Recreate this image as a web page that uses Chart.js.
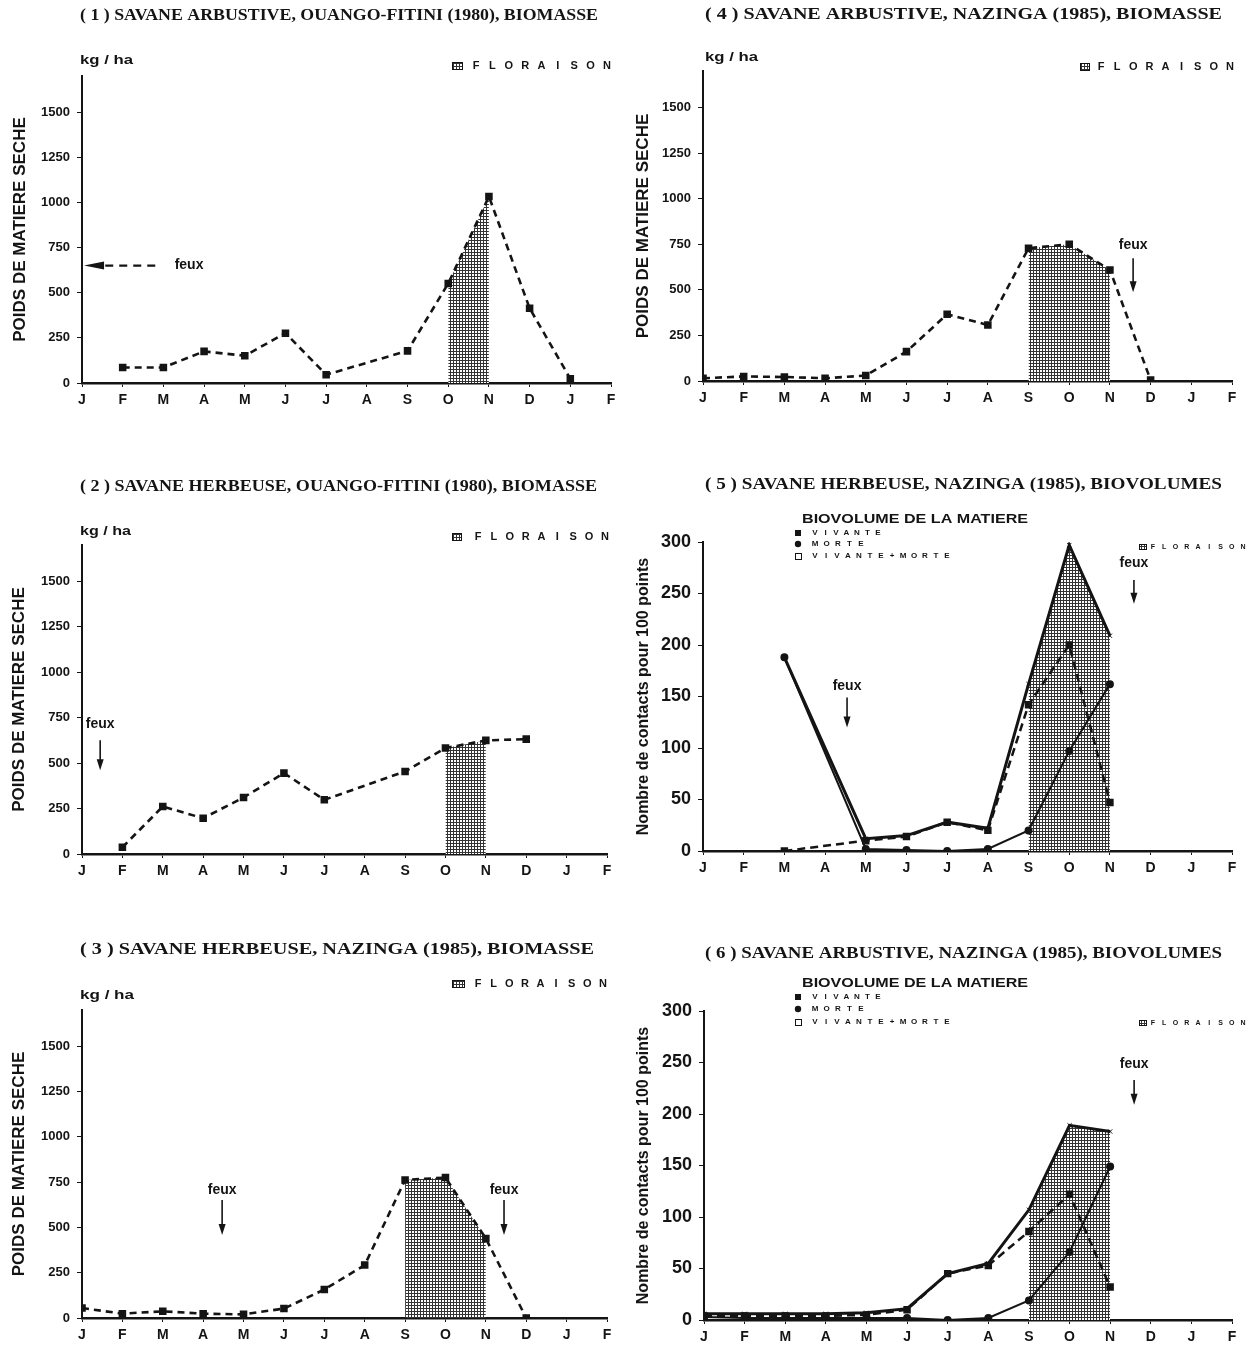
<!DOCTYPE html>
<html>
<head>
<meta charset="utf-8">
<script src="https://cdn.jsdelivr.net/npm/chart.js@4.4.0/dist/chart.umd.min.js"></script>
<style>
  html, body { margin: 0; padding: 0; background: #fff; }
  body { width: 1259px; height: 1349px; position: relative; overflow: hidden; }
  canvas { position: absolute; }
</style>
</head>
<body>
<script>
// month letters on the x axis (J of one year to F of the next)
const MONTHS = ['J','F','M','A','M','J','J','A','S','O','N','D','J','F'];
const BIOMASSE_TICKS = [0, 250, 500, 750, 1000, 1250, 1500];
const BIOVOLUME_TICKS = [0, 50, 100, 150, 200, 250, 300];

// (1) savane arbustive, Ouango-Fitini 1980 - biomasse kg/ha
const p1Months = [1, 2, 3, 4, 5, 6, 8, 9, 10, 11, 12];
const p1Biomasse = [86, 86, 175, 151, 276, 46, 178, 551, 1033, 414, 24];
const p1Floraison = [9, 10];

// (2) savane herbeuse, Ouango-Fitini 1980
const p2Months = [1, 2, 3, 4, 5, 6, 8, 9, 10, 11];
const p2Biomasse = [37, 261, 197, 311, 445, 298, 454, 583, 625, 632];
const p2Floraison = [9, 10];

// (3) savane herbeuse, Nazinga 1985
const p3Months = [0, 1, 2, 3, 4, 5, 6, 7, 8, 9, 10, 11];
const p3Biomasse = [55, 24, 37, 24, 20, 52, 157, 292, 762, 775, 439, 0];
const p3Floraison = [8, 10];

// (4) savane arbustive, Nazinga 1985
const p4Months = [0, 1, 2, 3, 4, 5, 6, 7, 8, 9, 10, 11];
const p4Biomasse = [15, 25, 22, 15, 30, 161, 366, 307, 728, 750, 609, 5];
const p4Floraison = [8, 10];

// (5) savane herbeuse, Nazinga 1985 - biovolumes
const p5Months = [2, 4, 5, 6, 7, 8, 9, 10];
const p5Vivante = [0, 10, 14, 28, 20, 142, 200, 47];
const p5Morte = [188, 2, 1, 0, 2, 20, 97, 162];
const p5Total = [188, 12, 15, 28, 22, 162, 297, 209];
const p5Floraison = [8, 10];

// (6) savane arbustive, Nazinga 1985 - biovolumes
const p6Months = [0, 1, 2, 3, 4, 5, 6, 7, 8, 9, 10];
const p6Vivante = [4, 4, 4, 4, 5, 10, 45, 53, 86, 122, 32];
const p6Morte = [3, 2, 2, 2, 2, 2, 0, 2, 19, 66, 149];
const p6Total = [6, 6, 6, 6, 7, 11, 45, 55, 107, 189, 183];
const p6Floraison = [8, 10];

const INK = '#141414';
const SANS = '"Liberation Sans", Arial, sans-serif';
const SERIF = '"Liberation Serif", "Times New Roman", serif';
const XH = 28;

// grid-like shading used for the flowering period
function makePattern() {
  const c = document.createElement('canvas');
  c.width = 3; c.height = 3;
  const g = c.getContext('2d');
  g.fillStyle = '#fff'; g.fillRect(0, 0, 3, 3);
  g.fillStyle = '#333';
  g.fillRect(0, 0, 3, 1);
  g.fillRect(0, 0, 1, 3);
  return g.createPattern(c, 'repeat');
}
const PATTERN = makePattern();

const pts = (xs, ys) => xs.map((x, i) => ({ x: x, y: ys[i] }));
const floraisonPts = (xs, ys, range) =>
  pts(xs, ys).filter(p => p.x >= range[0] && p.x <= range[1]);

function biomasseSets(xs, ys, flor) {
  return [
    { data: pts(xs, ys), borderColor: INK, borderWidth: 2.6, borderDash: [7, 5],
      pointStyle: 'rect', pointRadius: 3.5, pointBackgroundColor: INK, pointBorderColor: INK,
      fill: false, tension: 0 },
    { data: floraisonPts(xs, ys, flor), borderColor: 'rgba(0,0,0,0)', borderWidth: 0,
      pointRadius: 0, fill: 'origin', backgroundColor: PATTERN, tension: 0 }
  ];
}

function biovolumeSets(xs, viv, mor, tot, flor) {
  return [
    { data: pts(xs, tot), borderColor: INK, borderWidth: 3, pointStyle: 'crossRot',
      pointRadius: 3, pointBorderColor: INK, pointBorderWidth: 1, fill: false, tension: 0 },
    { data: pts(xs, viv), borderColor: INK, borderWidth: 2.5, borderDash: [8, 5],
      pointStyle: 'rect', pointRadius: 3.5, pointBackgroundColor: INK, pointBorderColor: INK,
      fill: false, tension: 0 },
    { data: pts(xs, mor), borderColor: INK, borderWidth: 2, pointStyle: 'circle',
      pointRadius: 3, pointBackgroundColor: INK, pointBorderColor: INK, fill: false, tension: 0 },
    { data: floraisonPts(xs, tot, flor), borderColor: 'rgba(0,0,0,0)', borderWidth: 0,
      pointRadius: 0, fill: 'origin', backgroundColor: PATTERN, tension: 0 }
  ];
}

const panels = [
  { canvas: { x: 0, y: 0, w: 625, h: 425 }, area: { l: 82, t: 76, r: 611, b: 383 },
    yMax: 1700, yTicks: BIOMASSE_TICKS, tickSize: 13, yTitle: 'POIDS DE MATIERE SECHE', yTitleSize: 17, yTitlePad: 2,
    datasets: biomasseSets(p1Months, p1Biomasse, p1Floraison),
    title: { text: '( 1 ) SAVANE ARBUSTIVE, OUANGO-FITINI (1980), BIOMASSE', x0: 80, x1: 598, y: 16 },
    unit: { x0: 80, x1: 133, y: 61 },
    flor: { bx: 452, bw: 11, x0: 476, x1: 607, y: 66, size: 11 },
    feuxH: { m0: 0.05, m1: 1.8, v: 650, tm: 2.63 },
    feux: [] },
  { canvas: { x: 625, y: 0, w: 634, h: 425 }, area: { l: 703, t: 71, r: 1232, b: 381 },
    yMax: 1700, yTicks: BIOMASSE_TICKS, tickSize: 13, yTitle: 'POIDS DE MATIERE SECHE', yTitleSize: 17, yTitlePad: 0,
    datasets: biomasseSets(p4Months, p4Biomasse, p4Floraison),
    title: { text: '( 4 ) SAVANE ARBUSTIVE, NAZINGA (1985), BIOMASSE', x0: 705, x1: 1222, y: 15 },
    unit: { x0: 705, x1: 758, y: 58 },
    flor: { bx: 1080, bw: 10, x0: 1101, x1: 1230, y: 67, size: 11 },
    feux: [{ m: 10.57, tv: 744, v0: 673, v1: 487 }] },
  { canvas: { x: 0, y: 465, w: 625, h: 420 }, area: { l: 82, t: 545, r: 607, b: 854 },
    yMax: 1700, yTicks: BIOMASSE_TICKS, tickSize: 13, yTitle: 'POIDS DE MATIERE SECHE', yTitleSize: 17, yTitlePad: 1,
    datasets: biomasseSets(p2Months, p2Biomasse, p2Floraison),
    title: { text: '( 2 ) SAVANE HERBEUSE, OUANGO-FITINI (1980), BIOMASSE', x0: 80, x1: 597, y: 487 },
    unit: { x0: 80, x1: 131, y: 532 },
    flor: { bx: 452, bw: 10, x0: 478, x1: 605, y: 537, size: 11 },
    feux: [{ m: 0.45, tv: 714, v0: 626, v1: 461 }] },
  { canvas: { x: 625, y: 465, w: 634, h: 420 }, area: { l: 703, t: 542, r: 1232, b: 851 },
    yMax: 300, yTicks: BIOVOLUME_TICKS, tickSize: 18, yTitle: 'Nombre de contacts pour 100 points', yTitleSize: 16, yTitlePad: 1,
    datasets: biovolumeSets(p5Months, p5Vivante, p5Morte, p5Total, p5Floraison),
    title: { text: '( 5 ) SAVANE HERBEUSE, NAZINGA (1985), BIOVOLUMES', x0: 705, x1: 1222, y: 485 },
    flor: { bx: 1139, bw: 8, x0: 1153, x1: 1243, y: 547, size: 7 },
    legend: { x0: 802, x1: 1028, y: 519, rows: [533, 544, 556] },
    feux: [{ m: 3.54, tv: 160, v0: 149, v1: 120 }, { m: 10.59, tv: 279, v0: 263, v1: 240 }] },
  { canvas: { x: 0, y: 930, w: 625, h: 419 }, area: { l: 82, t: 1010, r: 607, b: 1318 },
    yMax: 1700, yTicks: BIOMASSE_TICKS, tickSize: 13, yTitle: 'POIDS DE MATIERE SECHE', yTitleSize: 17, yTitlePad: 1,
    datasets: biomasseSets(p3Months, p3Biomasse, p3Floraison),
    title: { text: '( 3 ) SAVANE HERBEUSE, NAZINGA (1985), BIOMASSE', x0: 80, x1: 594, y: 950 },
    unit: { x0: 80, x1: 134, y: 996 },
    flor: { bx: 452, bw: 13, x0: 478, x1: 603, y: 984, size: 11 },
    feux: [{ m: 3.47, tv: 706, v0: 651, v1: 458 }, { m: 10.45, tv: 706, v0: 651, v1: 458 }] },
  { canvas: { x: 625, y: 930, w: 634, h: 419 }, area: { l: 704, t: 1011, r: 1232, b: 1320 },
    yMax: 300, yTicks: BIOVOLUME_TICKS, tickSize: 18, yTitle: 'Nombre de contacts pour 100 points', yTitleSize: 16, yTitlePad: 1,
    datasets: biovolumeSets(p6Months, p6Vivante, p6Morte, p6Total, p6Floraison),
    title: { text: '( 6 ) SAVANE ARBUSTIVE, NAZINGA (1985), BIOVOLUMES', x0: 705, x1: 1222, y: 954 },
    flor: { bx: 1139, bw: 8, x0: 1153, x1: 1243, y: 1023, size: 7 },
    legend: { x0: 802, x1: 1028, y: 983, rows: [997, 1009, 1022] },
    feux: [{ m: 10.59, tv: 248, v0: 233, v1: 209 }] }
];

// squeeze / stretch a string to an exact width
function fitText(ctx, text, x0, x1, y) {
  const w = ctx.measureText(text).width;
  ctx.save();
  ctx.translate(x0, y);
  ctx.scale((x1 - x0) / w, 1);
  ctx.textAlign = 'left';
  ctx.fillText(text, 0, 0);
  ctx.restore();
}
// letter-spaced text, first and last char centres given
function spacedText(ctx, text, x0, x1, y) {
  const step = (x1 - x0) / (text.length - 1);
  ctx.save();
  ctx.textAlign = 'center';
  for (let i = 0; i < text.length; i++) ctx.fillText(text[i], x0 + i * step, y);
  ctx.restore();
}

function makeDecor(p) {
  const ox = p.canvas.x, oy = p.canvas.y;
  return {
    id: 'decor',
    afterDraw(chart) {
      const ctx = chart.ctx;
      const xs = chart.scales.x, ys = chart.scales.y;
      ctx.save();
      ctx.fillStyle = INK;
      ctx.strokeStyle = INK;
      ctx.textBaseline = 'middle';

      // panel title
      ctx.font = 'bold 17px ' + SERIF;
      fitText(ctx, p.title.text, p.title.x0 - ox, p.title.x1 - ox, p.title.y - oy);

      // unit
      if (p.unit) {
        ctx.font = 'bold 12px ' + SANS;
        fitText(ctx, 'kg / ha', p.unit.x0 - ox, p.unit.x1 - ox, p.unit.y - oy);
      }

      // floraison key
      const f = p.flor;
      const bh = f.size < 9 ? 6 : 8;
      ctx.fillStyle = PATTERN;
      ctx.fillRect(f.bx - ox, f.y - oy - bh / 2, f.bw, bh);
      ctx.lineWidth = 1;
      ctx.strokeRect(f.bx - ox + 0.5, f.y - oy - bh / 2 + 0.5, f.bw - 1, bh - 1);
      ctx.fillStyle = INK;
      ctx.font = 'bold ' + f.size + 'px ' + SANS;
      spacedText(ctx, 'FLORAISON', f.x0 - ox, f.x1 - ox, f.y - oy);

      // biovolume legend
      if (p.legend) {
        const L = p.legend;
        ctx.font = 'bold 13px ' + SANS;
        fitText(ctx, 'BIOVOLUME DE LA MATIERE', L.x0 - ox, L.x1 - ox, L.y - oy);
        const sx = 798 - ox;
        ctx.fillRect(sx - 3, L.rows[0] - oy - 3, 6, 6);
        ctx.beginPath(); ctx.arc(sx, L.rows[1] - oy, 3.2, 0, Math.PI * 2); ctx.fill();
        ctx.lineWidth = 1;
        ctx.strokeRect(sx - 3 + 0.5, L.rows[2] - oy - 3 + 0.5, 6, 6);
        ctx.font = 'bold 8px ' + SANS;
        spacedText(ctx, 'VIVANTE', 815 - ox, 878 - ox, L.rows[0] - oy);
        spacedText(ctx, 'MORTE', 815 - ox, 861 - ox, L.rows[1] - oy);
        spacedText(ctx, 'VIVANTE+MORTE', 815 - ox, 947 - ox, L.rows[2] - oy);
      }

      // "feux" arrows
      ctx.font = 'bold 14px ' + SANS;
      ctx.textAlign = 'center';
      p.feux.forEach(a => {
        const x = xs.getPixelForValue(a.m);
        const ty = ys.getPixelForValue(a.tv);
        const y0 = ys.getPixelForValue(a.v0);
        const y1 = ys.getPixelForValue(a.v1);
        ctx.fillText('feux', x, ty);
        ctx.lineWidth = 1.6;
        ctx.beginPath(); ctx.moveTo(x, y0); ctx.lineTo(x, y1 - 8); ctx.stroke();
        ctx.beginPath();
        ctx.moveTo(x - 3.5, y1 - 11); ctx.lineTo(x + 3.5, y1 - 11); ctx.lineTo(x, y1);
        ctx.closePath(); ctx.fill();
      });
      if (p.feuxH) {
        const h = p.feuxH;
        const y = ys.getPixelForValue(h.v);
        const x0 = xs.getPixelForValue(h.m0);
        const x1 = xs.getPixelForValue(h.m1);
        ctx.fillText('feux', xs.getPixelForValue(h.tm), y);
        ctx.lineWidth = 2.4;
        ctx.setLineDash([8, 6]);
        ctx.beginPath(); ctx.moveTo(x1, y); ctx.lineTo(x0 + 18, y); ctx.stroke();
        ctx.setLineDash([]);
        ctx.beginPath();
        ctx.moveTo(x0 + 20, y - 4); ctx.lineTo(x0 + 20, y + 4); ctx.lineTo(x0, y);
        ctx.closePath(); ctx.fill();
      }
      ctx.restore();
    }
  };
}

panels.forEach(p => {
  const cv = document.createElement('canvas');
  cv.width = p.canvas.w; cv.height = p.canvas.h;
  cv.style.left = p.canvas.x + 'px'; cv.style.top = p.canvas.y + 'px';
  cv.style.width = p.canvas.w + 'px'; cv.style.height = p.canvas.h + 'px';
  document.body.appendChild(cv);

  const yWidth = p.area.l - p.canvas.x - 8;
  new Chart(cv, {
    type: 'line',
    data: { datasets: p.datasets },
    options: {
      responsive: false,
      animation: false,
      events: [],
      layout: {
        padding: {
          left: 8,
          top: p.area.t - p.canvas.y,
          right: p.canvas.x + p.canvas.w - p.area.r,
          bottom: Math.max(0, p.canvas.y + p.canvas.h - p.area.b - XH)
        }
      },
      plugins: { legend: { display: false }, tooltip: { enabled: false } },
      scales: {
        x: {
          type: 'linear', min: 0, max: 13,
          border: { display: true, color: INK, width: 2.6 },
          grid: { display: true, drawOnChartArea: false, drawTicks: true, tickLength: 4, color: INK, lineWidth: 1 },
          ticks: {
            stepSize: 1, autoSkip: false, maxRotation: 0, padding: 5, color: INK,
            font: { family: SANS, size: 14, weight: 'bold' },
            callback: v => MONTHS[v]
          },
          afterFit: s => { s.height = XH; }
        },
        y: {
          type: 'linear', min: 0, max: p.yMax,
          border: { display: true, color: INK, width: 2 },
          grid: { display: true, drawOnChartArea: false, drawTicks: true, tickLength: 5, color: INK, lineWidth: 1 },
          ticks: {
            autoSkip: false, padding: 7, color: INK,
            font: { family: SANS, size: p.tickSize, weight: 'bold' },
            callback: v => String(v)
          },
          title: {
            display: true, text: p.yTitle, color: INK,
            font: { family: SANS, size: p.yTitleSize, weight: 'bold' },
            padding: { top: p.yTitlePad, bottom: 0 }
          },
          afterBuildTicks: s => { s.ticks = p.yTicks.map(v => ({ value: v })); },
          afterFit: s => { s.width = yWidth; }
        }
      }
    },
    plugins: [makeDecor(p)]
  });
});
</script>
</body>
</html>
